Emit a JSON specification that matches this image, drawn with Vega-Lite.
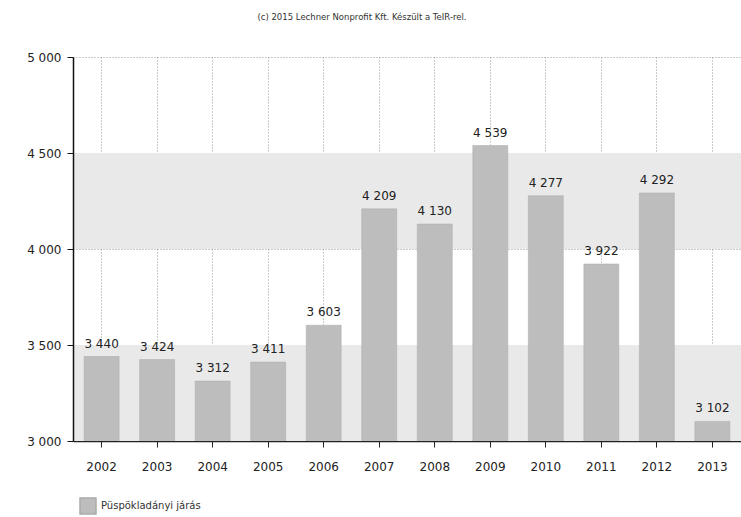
{
  "$schema": "https://vega.github.io/schema/vega-lite/v6.json",
  "autosize": "none",
  "width": 668,
  "height": 384,
  "padding": {"left": 73, "top": 57, "right": 0, "bottom": 76},
  "title": {"text": "(c) 2015 Lechner Nonprofit Kft. Készült a TeIR-rel.", "fontSize": 8.5, "font": "DejaVu Sans", "fontWeight": "normal", "color": "#333", "anchor": "middle", "offset": 30, "dx": -45},
  "config": {
    "locale": {"number": {"decimal": ",", "thousands": " ", "grouping": [3], "currency": ["", ""]}},
    "view": {"stroke": null},
    "font": "DejaVu Sans"
  },
  "datasets": {
    "bars": [
      {"year": "2002", "value": 3440, "series": "Püspökladányi járás"},
      {"year": "2003", "value": 3424, "series": "Püspökladányi járás"},
      {"year": "2004", "value": 3312, "series": "Püspökladányi járás"},
      {"year": "2005", "value": 3411, "series": "Püspökladányi járás"},
      {"year": "2006", "value": 3603, "series": "Püspökladányi járás"},
      {"year": "2007", "value": 4209, "series": "Püspökladányi járás"},
      {"year": "2008", "value": 4130, "series": "Püspökladányi járás"},
      {"year": "2009", "value": 4539, "series": "Püspökladányi járás"},
      {"year": "2010", "value": 4277, "series": "Püspökladányi járás"},
      {"year": "2011", "value": 3922, "series": "Püspökladányi járás"},
      {"year": "2012", "value": 4292, "series": "Püspökladányi járás"},
      {"year": "2013", "value": 3102, "series": "Püspökladányi járás"}
    ],
    "bands": [
      {"lo": 3000, "hi": 3500},
      {"lo": 4000, "hi": 4500}
    ]
  },
  "resolve": {"axis": {"y": "independent"}},
  "layer": [
    {
      "data": {"name": "bands"},
      "mark": {"type": "rect", "color": "#e9e9e9"},
      "encoding": {
        "y": {"field": "lo", "type": "quantitative", "scale": {"domain": [3000, 5000], "zero": false, "nice": false},
          "axis": {"orient": "left", "title": null, "values": [3000, 3500, 4000, 4500, 5000], "labels": false, "ticks": false, "domain": false, "grid": true, "gridDash": [1, 2], "gridColor": "#999", "zindex": 0}},
        "y2": {"field": "hi"}
      }
    },
    {
      "data": {"name": "bars"},
      "encoding": {
        "x": {
          "field": "year", "type": "nominal",
          "scale": {"paddingInner": 0.37, "paddingOuter": 0.2},
          "axis": {"title": null, "labelAngle": 0, "labelFontSize": 12, "labelColor": "#222", "labelPadding": 14, "domainColor": "#222", "domainWidth": 1.5, "tickColor": "#222", "tickSize": 6, "grid": true, "gridDash": [1, 2], "gridColor": "#999", "zindex": 0}
        },
        "y": {
          "field": "value", "type": "quantitative",
          "scale": {"domain": [3000, 5000], "zero": false, "nice": false},
          "axis": {"orient": "left", "title": null, "values": [3000, 3500, 4000, 4500, 5000], "format": ",d", "grid": false, "labelFontSize": 12, "labelColor": "#222", "labelPadding": 6, "domain": true, "domainColor": "#111", "domainWidth": 1.5, "ticks": true, "tickColor": "#111", "tickSize": 6, "tickWidth": 1, "zindex": 2}
        }
      },
      "layer": [
        {
          "mark": {"type": "bar", "clip": true, "stroke": "#aaa", "strokeWidth": 0.5},
          "encoding": {
            "color": {"field": "series", "type": "nominal", "scale": {"range": ["#bdbdbd"]},
              "legend": {"title": null, "orient": "none", "legendX": 6, "legendY": 440, "symbolType": "square", "symbolSize": 256, "symbolStrokeColor": "#aaa", "labelFontSize": 10, "labelColor": "#333"}}
          }
        },
        {
          "mark": {"type": "text", "baseline": "bottom", "dy": -6, "fontSize": 12, "color": "#222"},
          "encoding": {"text": {"field": "value", "type": "quantitative", "format": ",d"}}
        }
      ]
    }
  ]
}
